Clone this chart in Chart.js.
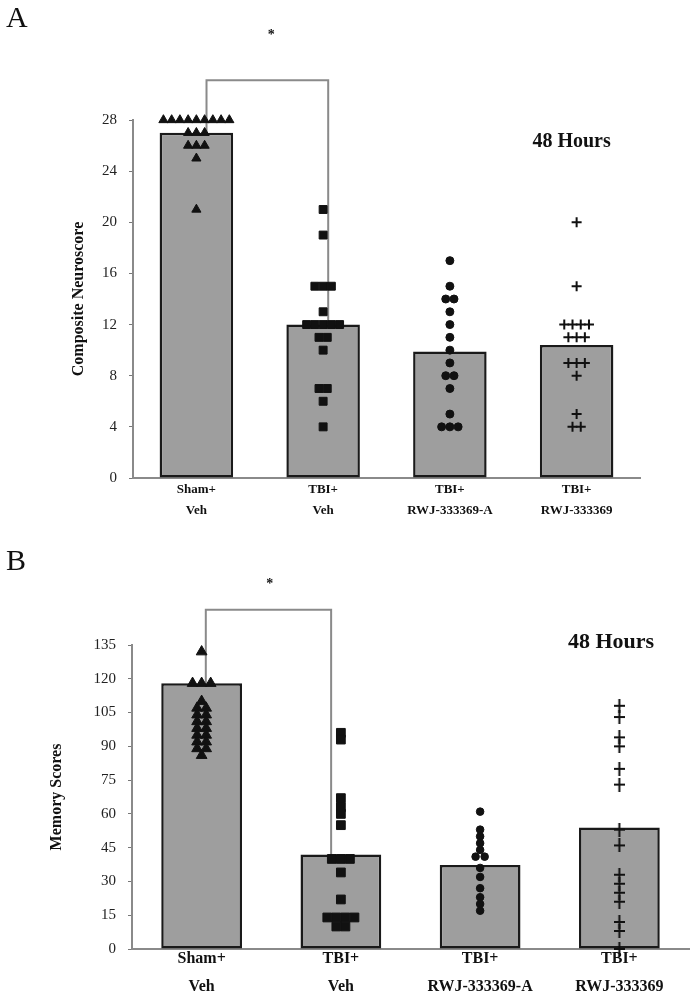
<!DOCTYPE html>
<html>
<head>
<meta charset="utf-8">
<script src="https://cdn.jsdelivr.net/npm/chart.js@4.4.0/dist/chart.umd.min.js"></script>
<style>
body { margin: 0; background: #fff; width: 697px; height: 997px; position: relative; overflow: hidden; }
#wrapA { position: absolute; left: 0; top: 0; width: 697px; height: 530px; }
#wrapB { position: absolute; left: 0; top: 535px; width: 697px; height: 462px; }
</style>
</head>
<body>
<div id="wrapA"><canvas id="neuroChart"></canvas></div>
<div id="wrapB"><canvas id="memoryChart"></canvas></div>
<script>
const groups = [['Sham+', 'Veh'], ['TBI+', 'Veh'], ['TBI+', 'RWJ-333369-A'], ['TBI+', 'RWJ-333369']];

// panel A - composite neuroscore
const neuroTicks = [0, 4, 8, 12, 16, 20, 24, 28];
const neuroMeans = [27, 12, 9.9, 10.4];
const neuroSham = [28, 28, 28, 28, 28, 28, 28, 28, 28, 27, 27, 27, 26, 26, 26, 25, 21];
const neuroTbi = [21, 19, 15, 15, 15, 13, 12, 12, 12, 12, 12, 11, 11, 10, 7, 7, 6, 4];
const neuroRwjA = [17, 15, 14, 14, 13, 12, 11, 10, 9, 8, 8, 7, 5, 4, 4, 4];
const neuroRwj = [20, 15, 12, 12, 12, 12, 11, 11, 11, 9, 9, 9, 8, 5, 4, 4];

// panel B - memory scores
const memoryTicks = [0, 15, 30, 45, 60, 75, 90, 105, 120, 135];
const memoryMeans = [118, 42, 37.3, 54];
const memorySham = [132, 118, 118, 118, 110, 107, 107, 104, 104, 101, 101, 98, 98, 95, 95, 92, 92, 89, 89, 86];
const memoryTbi = [96, 93, 67, 63, 60, 55, 40, 40, 40, 34, 22, 14, 14, 14, 14, 10, 10];
const memoryRwjA = [61, 53, 50, 47, 44, 41, 41, 36, 32, 27, 23, 20, 17];
const memoryRwj = [108, 103, 94, 90, 80, 73, 53, 46, 33, 29, 25, 21, 12, 8, 0];

const serif = "'Liberation Serif', 'Times New Roman', serif";

// same values in one group get spread sideways
function spread(values, idx, step) {
    const counts = {}, seen = {};
    values.forEach(v => counts[v] = (counts[v] || 0) + 1);
    return values.map(v => {
        seen[v] = seen[v] === undefined ? 0 : seen[v] + 1;
        return { x: idx + (seen[v] - (counts[v] - 1) / 2) * step, y: v };
    });
}

function tallCross(w, h) {
    const c = document.createElement('canvas');
    c.width = w; c.height = h;
    const g = c.getContext('2d');
    g.strokeStyle = '#111';
    g.lineWidth = 2;
    g.beginPath();
    g.moveTo(w / 2, 0); g.lineTo(w / 2, h);
    g.moveTo(0, h / 2); g.lineTo(w, h / 2);
    g.stroke();
    return c;
}

const extras = {
    id: 'extras',
    beforeDatasetsDraw(chart, args, o) {
        const ctx = chart.ctx, xs = chart.scales.xp, ys = chart.scales.y;
        const x1 = xs.getPixelForValue(o.bracket[0]), x2 = xs.getPixelForValue(o.bracket[1]);
        const top = ys.getPixelForValue(o.bracketTop);
        ctx.save();
        ctx.strokeStyle = '#8a8a8a';
        ctx.lineWidth = 2;
        ctx.beginPath();
        ctx.moveTo(x1, ys.getPixelForValue(o.means[0]));
        ctx.lineTo(x1, top);
        ctx.lineTo(x2, top);
        ctx.lineTo(x2, ys.getPixelForValue(o.means[1]));
        ctx.stroke();
        ctx.restore();
    },
    afterDraw(chart, args, o) {
        const ctx = chart.ctx, xs = chart.scales.xp, ys = chart.scales.y;
        ctx.save();
        ctx.fillStyle = '#111';
        ctx.textAlign = 'left';
        ctx.textBaseline = 'top';
        ctx.font = '30px ' + serif;
        ctx.fillText(o.letter, 6, o.letterTop);
        ctx.textAlign = 'center';
        ctx.textBaseline = 'middle';
        ctx.font = 'bold ' + o.noteSize + 'px ' + serif;
        ctx.fillText('48 Hours', xs.getPixelForValue(o.note[0]), ys.getPixelForValue(o.note[1]));
        ctx.font = 'bold 14px ' + serif;
        ctx.fillText('*', xs.getPixelForValue(o.star[0]), ys.getPixelForValue(o.star[1]));
        ctx.restore();
    }
};

function makePanel(id, p) {
    const pts = (data, i, style, r, extra) => Object.assign({
        type: 'scatter',
        data: spread(data, i, 0.065),
        xAxisID: 'xp',
        yAxisID: 'y',
        pointStyle: style,
        pointRadius: r,
        backgroundColor: '#111',
        borderColor: '#111',
        borderWidth: 1,
        clip: false,
        order: 0
    }, extra || {});

    return new Chart(document.getElementById(id), {
        type: 'bar',
        data: {
            labels: groups,
            datasets: [
                {
                    type: 'bar',
                    data: p.means,
                    xAxisID: 'x',
                    yAxisID: 'y',
                    grouped: false,
                    backgroundColor: '#9e9e9e',
                    borderColor: '#1a1a1a',
                    borderWidth: 2.5,
                    borderSkipped: false,
                    categoryPercentage: 1,
                    barPercentage: 0.58,
                    order: 1
                },
                pts(p.groups[0], 0, 'triangle', p.tri),
                pts(p.groups[1], 1, 'rect', p.sq),
                pts(p.groups[2], 2, 'circle', p.dot),
                pts(p.groups[3], 3, p.crossStyle, p.cross, { borderWidth: 2 })
            ]
        },
        options: {
            responsive: true,
            maintainAspectRatio: false,
            animation: false,
            layout: { padding: { top: p.padTop, right: p.padRight, left: 0, bottom: 0 } },
            plugins: {
                legend: { display: false },
                tooltip: { enabled: false },
                extras: p.extras
            },
            scales: {
                x: {
                    type: 'category',
                    offset: true,
                    grid: { display: false, drawTicks: false },
                    border: { color: '#8a8a8a', width: 2 },
                    ticks: {
                        font: { family: serif, size: p.xFont, weight: 'bold', lineHeight: p.xLine },
                        color: '#111',
                        padding: p.xPad,
                        maxRotation: 0,
                        autoSkip: false
                    },
                    afterFit: s => { s.height = p.xHeight; }
                },
                xp: { type: 'linear', min: -0.5, max: 3.5, offset: false, display: false },
                y: {
                    min: 0,
                    max: p.ticks[p.ticks.length - 1],
                    afterBuildTicks: s => { s.ticks = p.ticks.map(v => ({ value: v })); },
                    afterFit: s => { s.width = p.yWidth; },
                    grid: { drawOnChartArea: false, color: '#777', tickLength: 4 },
                    border: { color: '#8a8a8a', width: 2 },
                    ticks: { font: { family: serif, size: 15 }, color: '#222', padding: 12 },
                    title: {
                        display: true,
                        text: p.yTitle,
                        color: '#111',
                        font: { family: serif, size: 16, weight: 'bold' },
                        padding: { top: p.titlePad, bottom: 0 }
                    }
                }
            }
        },
        plugins: [extras]
    });
}

makePanel('neuroChart', {
    means: neuroMeans,
    groups: [neuroSham, neuroTbi, neuroRwjA, neuroRwj],
    ticks: neuroTicks,
    yTitle: 'Composite Neuroscore',
    padTop: 120, padRight: 57, yWidth: 133, titlePad: 69,
    xHeight: 52, xFont: 13, xLine: 1.6, xPad: 1,
    tri: 5.3, sq: 5.6, dot: 4, cross: 5, crossStyle: 'cross',
    extras: {
        letter: 'A', letterTop: 4, means: neuroMeans,
        bracket: [0.08, 1.04], bracketTop: 31.1,
        note: [2.96, 26.3], noteSize: 20, star: [0.59, 34.6]
    }
});

makePanel('memoryChart', {
    means: memoryMeans,
    groups: [memorySham, memoryTbi, memoryRwjA, memoryRwj],
    ticks: memoryTicks,
    yTitle: 'Memory Scores',
    padTop: 110, padRight: 0, yWidth: 132, titlePad: 47,
    xHeight: 48, xFont: 16, xLine: 1.8, xPad: -5,
    tri: 6.2, sq: 6.2, dot: 3.8, cross: 6, crossStyle: tallCross(11, 14),
    extras: {
        letter: 'B', letterTop: 12, means: memoryMeans,
        bracket: [0.03, 0.93], bracketTop: 150.7,
        note: [2.94, 136.4], noteSize: 22, star: [0.49, 162]
    }
});
</script>
</body>
</html>
